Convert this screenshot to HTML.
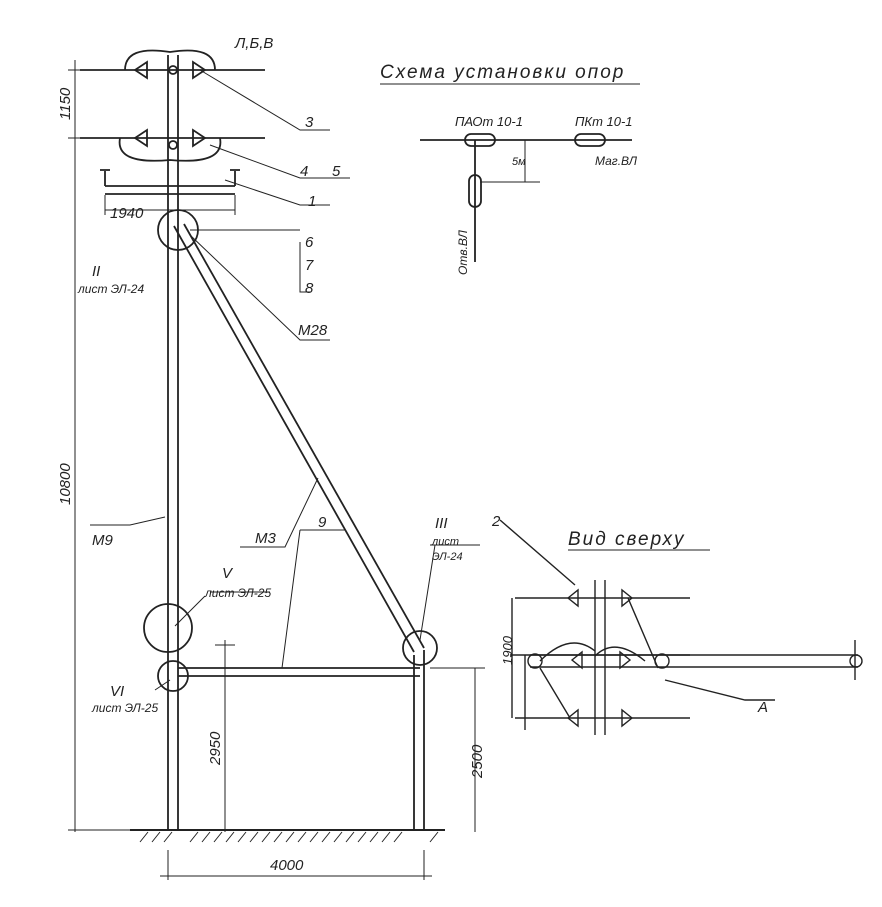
<!DOCTYPE html>
<html><head><meta charset="utf-8"><style>
html,body{margin:0;padding:0;background:#fff}
svg text{font-family:"Liberation Sans",sans-serif;font-style:italic;fill:#222}
</style></head><body>
<svg width="882" height="902" viewBox="0 0 882 902" xmlns="http://www.w3.org/2000/svg" stroke="#222" fill="none" stroke-width="1.8">
<line x1="168" y1="55" x2="168" y2="830"/><line x1="178" y1="55" x2="178" y2="830"/>
<line x1="414" y1="655" x2="414" y2="830"/><line x1="424" y1="650" x2="424" y2="830"/>
<line x1="174" y1="226" x2="414" y2="652"/><line x1="184" y1="224" x2="424" y2="648"/>
<line x1="178" y1="668" x2="420" y2="668"/><line x1="178" y1="676" x2="420" y2="676"/>
<line x1="130" y1="830" x2="445" y2="830" stroke-width="2"/>
<g stroke-width="1">
<path d="M140 842l8-10M152 842l8-10M164 842l8-10M190 842l8-10M202 842l8-10M214 842l8-10M226 842l8-10M238 842l8-10M250 842l8-10M262 842l8-10M274 842l8-10M286 842l8-10M298 842l8-10M310 842l8-10M322 842l8-10M334 842l8-10M346 842l8-10M358 842l8-10M370 842l8-10M382 842l8-10M394 842l8-10M430 842l8-10"/>
</g>
<g stroke-width="1">
<line x1="75" y1="60" x2="75" y2="832"/>
<line x1="68" y1="70" x2="165" y2="70"/><line x1="68" y1="138" x2="165" y2="138"/><line x1="68" y1="830" x2="130" y2="830"/>
<line x1="225" y1="640" x2="225" y2="832"/><line x1="215" y1="645" x2="235" y2="645"/>
<line x1="475" y1="668" x2="475" y2="832"/><line x1="430" y1="668" x2="485" y2="668"/>
<line x1="168" y1="850" x2="168" y2="880"/><line x1="424" y1="850" x2="424" y2="880"/><line x1="160" y1="876" x2="432" y2="876"/>
<line x1="105" y1="210" x2="235" y2="210"/><line x1="105" y1="195" x2="105" y2="215"/><line x1="235" y1="195" x2="235" y2="215"/>
</g>
<line x1="80" y1="70" x2="265" y2="70"/><line x1="80" y1="138" x2="265" y2="138"/>
<path d="M125 70 Q125 45 170 52 Q215 45 215 70"/>
<path d="M135 70l12-8v16zM205 70l-12-8v16zM135 138l12-8v16zM205 138l-12-8v16z"/>
<path d="M120 138 Q115 165 170 160 Q225 165 220 138"/>
<circle cx="173" cy="70" r="4"/><circle cx="173" cy="145" r="4"/>
<line x1="105" y1="186" x2="235" y2="186"/><line x1="105" y1="194" x2="235" y2="194"/>
<path d="M105 186v-15M235 186v-15M100 170h10M230 170h10"/>
<circle cx="178" cy="230" r="20"/><circle cx="168" cy="628" r="24"/><circle cx="173" cy="676" r="15"/><circle cx="420" cy="648" r="17"/>
<g stroke-width="1">
<path d="M200 70L300 130h30M210 145L300 178h50M225 180L300 205h30M190 230h110M190 235L300 340h30M300 242v50h10"/>
<path d="M90 525h40l35-8M240 547h45l33-69M300 530h45M300 530l-18 138M205 596l-30 30M210 592h60M155 690l15-10M420 640l15-95M430 545h50"/>
</g>
<g stroke="none" font-size="15">
<text x="235" y="48">Л,Б,В</text>
<text x="305" y="127">3</text><text x="300" y="176">4</text><text x="332" y="176">5</text>
<text x="308" y="206">1</text><text x="305" y="247">6</text><text x="305" y="270">7</text><text x="305" y="293">8</text>
<text x="298" y="335">М28</text>
<text x="110" y="218">1940</text>
<text x="92" y="276">II</text><text x="78" y="293" font-size="12">лист ЭЛ-24</text>
<text x="92" y="545">М9</text><text x="255" y="543">М3</text><text x="318" y="527">9</text>
<text x="435" y="528">III</text><text x="432" y="545" font-size="11">лист</text><text x="432" y="560" font-size="11">ЭЛ-24</text>
<text x="222" y="578">V</text><text x="205" y="597" font-size="12">лист ЭЛ-25</text>
<text x="110" y="696">VI</text><text x="92" y="712" font-size="12">лист ЭЛ-25</text>
<text x="270" y="870">4000</text>
<text transform="translate(70,120) rotate(-90)">1150</text>
<text transform="translate(70,505) rotate(-90)">10800</text>
<text transform="translate(220,765) rotate(-90)">2950</text>
<text transform="translate(482,778) rotate(-90)">2500</text>
<text x="380" y="78" font-size="19" letter-spacing="2">Схема установки опор</text>
<text x="568" y="545" font-size="19" letter-spacing="2">Вид сверху</text>
<text x="455" y="126" font-size="13">ПАОт 10-1</text><text x="575" y="126" font-size="13">ПКт 10-1</text>
<text x="595" y="165" font-size="12">Маг.ВЛ</text><text x="512" y="165" font-size="11">5м</text>
<text transform="translate(467,275) rotate(-90)" font-size="12">Отв.ВЛ</text>
<text x="492" y="526">2</text><text x="758" y="712">А</text>
<text transform="translate(512,665) rotate(-90)" font-size="13">1900</text>
</g>
<line x1="380" y1="84" x2="640" y2="84" stroke-width="1"/>
<line x1="568" y1="550" x2="710" y2="550" stroke-width="1"/>
<line x1="420" y1="140" x2="632" y2="140"/>
<rect x="465" y="134" width="30" height="12" rx="6"/><rect x="575" y="134" width="30" height="12" rx="6"/>
<line x1="475" y1="140" x2="475" y2="262"/><rect x="469" y="175" width="12" height="32" rx="6"/>
<g stroke-width="1"><line x1="525" y1="140" x2="525" y2="182"/><line x1="480" y1="182" x2="540" y2="182"/></g>
<g stroke-width="1.4">
<line x1="515" y1="598" x2="690" y2="598"/><line x1="510" y1="655" x2="690" y2="655"/><line x1="515" y1="718" x2="690" y2="718"/>
<line x1="530" y1="655" x2="858" y2="655"/><line x1="530" y1="667" x2="858" y2="667"/>
<circle cx="856" cy="661" r="6"/>
<line x1="855" y1="640" x2="855" y2="680"/>
<line x1="595" y1="580" x2="595" y2="735"/><line x1="605" y1="580" x2="605" y2="735"/>
<path d="M568 598l10-8v16zM632 598l-10-8v16zM568 718l10-8v16zM632 718l-10-8v16zM572 660l10-8v16zM630 660l-10-8v16z"/>
<circle cx="535" cy="661" r="7"/><circle cx="662" cy="661" r="7"/>
<path d="M540 661q30-30 55 -10M645 661q-30-25-50 -5M628 598l30 70M540 668l30 50"/>
<line x1="512" y1="598" x2="512" y2="718"/>
<path d="M665 680l80 20h30M500 520l75 65"/>
<line x1="525" y1="655" x2="525" y2="730"/>
</g>
</svg>
</body></html>
